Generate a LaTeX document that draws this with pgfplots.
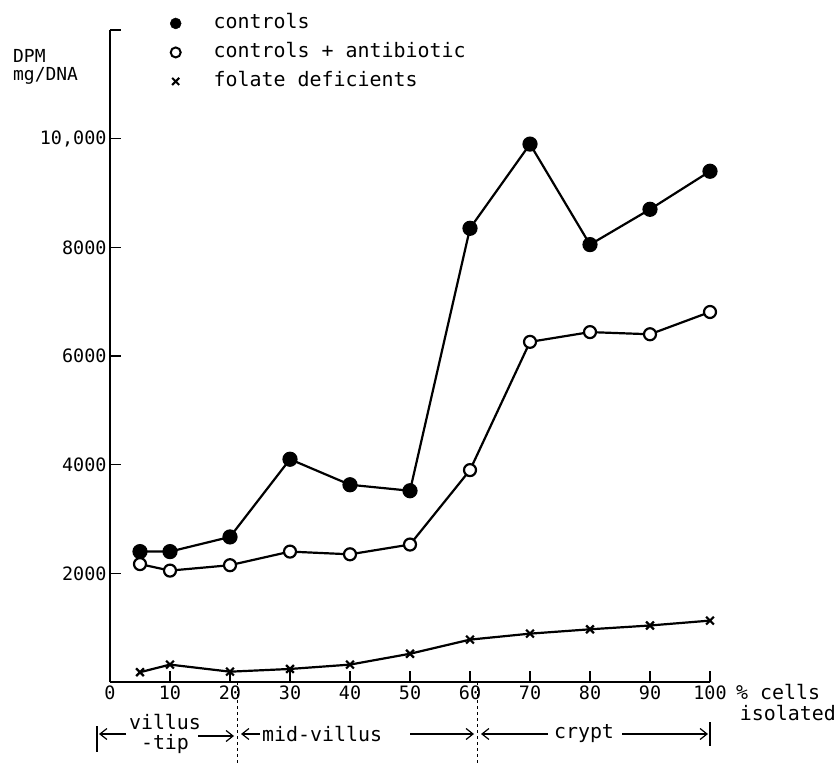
\documentclass[border=0pt]{standalone}
\usepackage{pgfplots}
\pgfplotsset{compat=1.18}
\usepackage{fontspec}
\setmainfont{DejaVu Sans Mono}
\usetikzlibrary{arrows.meta}
\newcommand{\bigfont}{\fontsize{20}{22}\selectfont}
\newcommand{\labfont}{\fontsize{18}{20}\selectfont}
\newcommand{\tickfont}{\fontsize{18.5}{21}\selectfont}
\begin{document}
\begin{tikzpicture}
\useasboundingbox (-110bp,-82bp) rectangle (728bp,682bp);
\begin{axis}[
  at={(0,0)}, anchor=south west,
  scale only axis, width=600bp, height=652bp,
  xmin=0, xmax=100, ymin=0, ymax=12000,
  axis lines=left, axis line style={-, line width=1.8bp},
  clip=false,
  xtick={0,10,...,100}, ytick={2000,4000,...,12000},
  yticklabels={2000,4000,6000,8000,{10,000},{}},
  scaled y ticks=false,
  tick align=inside, major tick length=11bp,
  tick style={line width=1.6bp, black},
  ticklabel style={font=\tickfont},
  /pgf/number format/assume math mode=true,
  legend image code/.code={\draw[#1] plot coordinates {(0bp,0bp)}; \path[draw=none,fill=none] (0bp,0bp) -- (36bp,0bp);},
  legend style={draw=none, fill=none, at={(0.1,1.028)}, anchor=north west,
    font=\bigfont, inner sep=0pt, row sep=6bp,
    nodes={text height=15bp, text depth=4bp, inner sep=2bp},
    cells={anchor=west}},
  legend cell align=left,
]
\addlegendimage{only marks, mark=*, mark size=5.5bp, black}
\addlegendentry{controls}
\addlegendimage{only marks, mark=o, mark size=5bp, black, mark options={line width=2bp}}
\addlegendentry{controls + antibiotic}
\addlegendimage{only marks, mark=x, mark size=5bp, black, mark options={line width=2bp}}
\addlegendentry{folate deficients}

\addplot[black, line width=2.2bp, mark=*, mark size=6.5bp, forget plot] coordinates {
(5,2400) (10,2400) (20,2670) (30,4100) (40,3630) (50,3520) (60,8350) (70,9900) (80,8050) (90,8700) (100,9400)};
\addplot[black, line width=2.2bp, mark=*, mark size=6bp, forget plot,
  mark options={fill=white, line width=2.2bp}] coordinates {
(5,2170) (10,2050) (20,2150) (30,2400) (40,2350) (50,2530) (60,3900) (70,6260) (80,6440) (90,6400) (100,6810)};
\addplot[black, line width=2.2bp, mark=x, mark size=5.5bp, forget plot,
  mark options={line width=2.2bp}] coordinates {
(5,180) (10,320) (20,190) (30,240) (40,320) (50,520) (60,780) (70,890) (80,970) (90,1040) (100,1130)};
\end{axis}
% y-axis label
\node[anchor=west, font=\labfont, inner sep=0pt] at (-97bp,626bp) {DPM};
\node[anchor=west, font=\labfont, inner sep=0pt] at (-97bp,606bp) {mg/DNA};
% x-axis label
\node[anchor=west, font=\bigfont, inner sep=0pt] at (626bp,-10bp) {\% cells};
\node[anchor=east, font=\bigfont, inner sep=0pt] at (726bp,-31bp) {isolated};
% region separators
\draw[black, line width=0.8bp, dash pattern=on 3bp off 3bp] (127bp,0) -- (127bp,-82bp);
\draw[black, line width=0.8bp, dash pattern=on 3bp off 3bp] (367bp,0) -- (367bp,-82bp);
% villus tip
\node[font=\bigfont, inner sep=0pt] at (55bp,-40bp) {villus};
\node[font=\bigfont, inner sep=0pt] at (55bp,-62bp) {-tip};
\draw[line width=1.4bp] (-13bp,-44bp) -- (-13bp,-70bp);
\draw[line width=1.2bp, -{Straight Barb[length=7bp,width=11bp]}] (16bp,-52bp) -- (-11bp,-52bp);
\draw[line width=1.2bp, -{Straight Barb[length=7bp,width=11bp]}] (88bp,-54bp) -- (124bp,-54bp);
% mid-villus
\draw[line width=1.2bp, -{Straight Barb[length=7bp,width=11bp]}] (150bp,-52bp) -- (131bp,-52bp);
\node[font=\bigfont, inner sep=0pt, anchor=west] at (152bp,-52bp) {mid-villus};
\draw[line width=1.2bp, -{Straight Barb[length=7bp,width=11bp]}] (300bp,-52bp) -- (364bp,-52bp);
% crypt
\draw[line width=1.2bp, -{Straight Barb[length=7bp,width=11bp]}] (438bp,-52bp) -- (371bp,-52bp);
\node[font=\bigfont, inner sep=0pt] at (474bp,-52bp) {crypt};
\draw[line width=1.2bp, -{Straight Barb[length=7bp,width=11bp]}] (512bp,-52bp) -- (598bp,-52bp);
\draw[line width=1.4bp] (600bp,-40bp) -- (600bp,-64bp);
\end{tikzpicture}
\end{document}
